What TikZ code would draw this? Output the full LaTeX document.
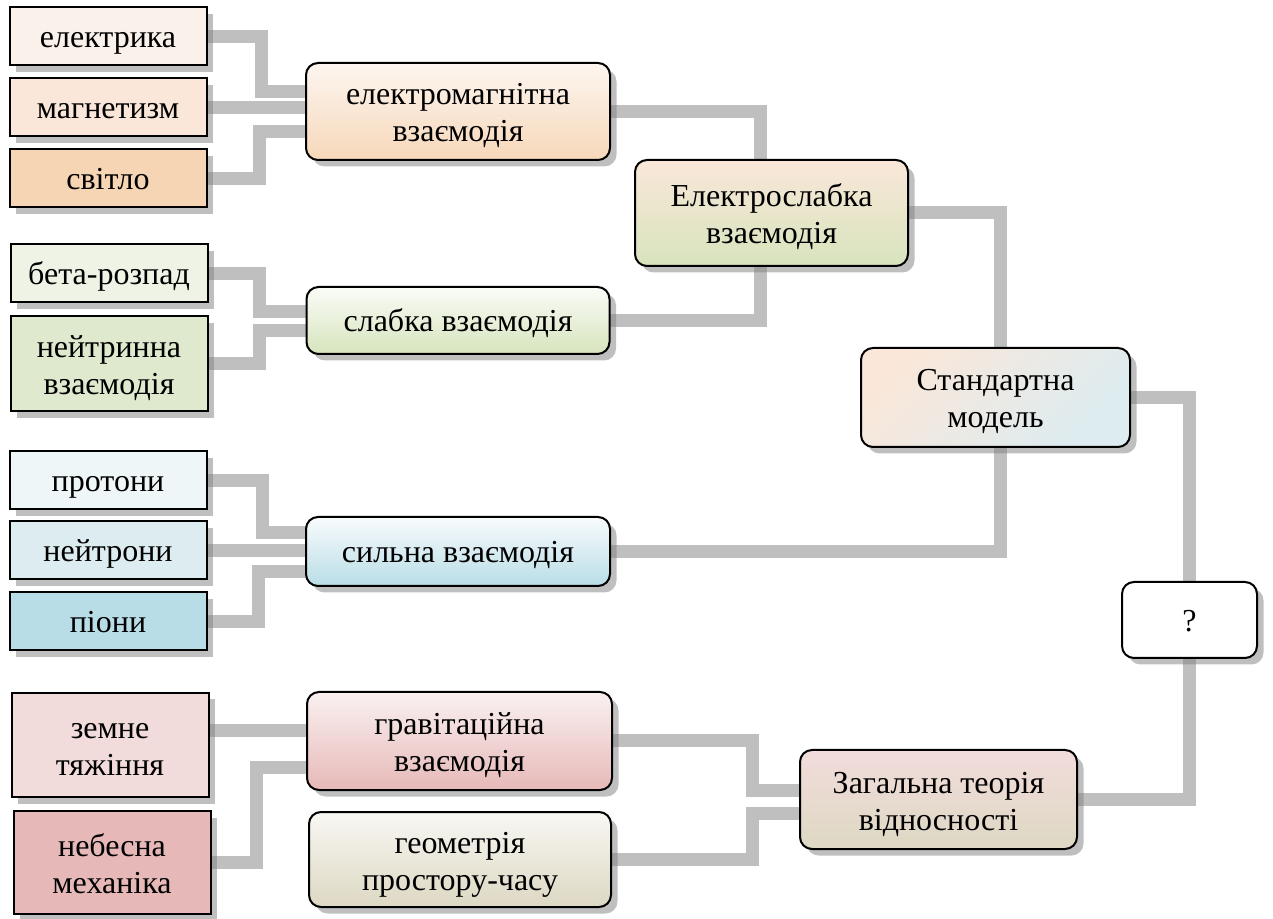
\documentclass[tikz,border=0pt]{standalone}
\usepackage{fontspec}
\setmainfont{Liberation Serif}
\usetikzlibrary{positioning,shadows,backgrounds}

\definecolor{linkgrey}{HTML}{BFBFBF}
\definecolor{peachA}{HTML}{FBF1EB}
\definecolor{peachB}{HTML}{FAE7D9}
\definecolor{peachC}{HTML}{F6D5B4}
\definecolor{greenA}{HTML}{EEF3E5}
\definecolor{greenB}{HTML}{DFE9CE}
\definecolor{greenC}{HTML}{D7E4BD}
\definecolor{blueA}{HTML}{EEF6F8}
\definecolor{blueB}{HTML}{DCECF1}
\definecolor{blueC}{HTML}{B9DDE6}
\definecolor{roseA}{HTML}{F2DCDB}
\definecolor{roseB}{HTML}{E6B9B8}
\definecolor{sandC}{HTML}{DDD8C3}

\begin{document}
\begin{tikzpicture}[x=1pt, y=1pt,
    every node/.style={font=\fontsize{32}{37}\selectfont, align=center, inner sep=3pt, outer sep=0pt,
        text height=31pt, text depth=8pt},
    two/.style={text height=69pt, text depth=8pt},
    leaf/.style={draw, line width=2pt, minimum width=197pt, minimum height=58pt,
        drop shadow={shadow xshift=6.5pt, shadow yshift=-6.5pt, opacity=0.5}},
    force/.style={leaf, rounded corners=12pt, minimum width=304pt},
    link/.style={draw=linkgrey, line width=13pt}]
    \useasboundingbox (0,0) rectangle (1273,918);

    % electromagnetism
    \node[leaf, fill=peachA] (el) at (108,881.5) {електрика};
    \node[leaf, fill=peachB, below=13pt of el] (mag) {магнетизм};
    \node[leaf, fill=peachC, below=13pt of mag] (svit) {світло};
    \node[force, two, top color=white!60!peachB, bottom color=peachC!85!peachB, minimum height=97pt] (emag) at (458,806.5) {електромагнітна\\взаємодія};

    % weak force
    \node[leaf, fill=greenA] (beta) at (109,644.5) {бета-розпад};
    \node[leaf, two, fill=greenB, below=14pt of beta, minimum height=95pt] (neu) {нейтринна\\взаємодія};
    \node[force, top color=white!70!greenA, bottom color=greenC, minimum height=67pt, minimum width=303pt] (slab) at (458,597.5) {слабка взаємодія};

    % strong force
    \node[leaf, fill=blueA] (prot) at (108,437.5) {протони};
    \node[leaf, fill=blueB, below=12pt of prot] (neut) {нейтрони};
    \node[leaf, fill=blueC, below=13pt of neut] (pion) {піони};
    \node[force, top color=white!60!blueA, bottom color=blueC, minimum height=69pt] (syl) at (458,366.5) {сильна взаємодія};

    % gravity
    \node[leaf, two, fill=roseA, minimum height=104pt] (zem) at (110,173) {земне\\тяжіння};
    \node[leaf, two, fill=roseB, below=14pt of zem, xshift=2pt, minimum height=103pt] (neb) {небесна\\механіка};
    \node[force, two, top color=white!60!roseA, bottom color=roseB, minimum height=98pt, minimum width=305pt] (grav) at (459.5,177) {гравітаційна\\взаємодія};
    \node[force, two, top color=white!80!sandC, bottom color=sandC, minimum height=95pt, minimum width=302pt] (geo) at (460,58.5) {геометрія\\простору-часу};

    % unified levels
    \node[force, two, top color=peachB, bottom color=greenC, minimum width=273pt, minimum height=106pt] (ew) at (771.5,705) {Електрослабка\\взаємодія};
    \node[force, two, left color=peachB, right color=blueB, shading angle=45, minimum width=269pt, minimum height=99pt] (std) at (995.5,520.5) {Стандартна\\модель};
    \node[force, fill=white, minimum width=135pt, minimum height=76pt] (q) at (1189.5,298) {?};
    \node[force, two, top color=roseA, bottom color=sandC, minimum width=277pt, minimum height=99pt] (zag) at (938.5,118.5) {Загальна теорія\\відносності};

    \coordinate (g1) at ([yshift=10pt]grav.west);

    \begin{scope}[on background layer]
        \draw[link] (el.east) -- ++(55,0) |- ([yshift=20pt]emag.west);
        \draw[link] (mag.east) -- (mag.east -| emag.west);
        \draw[link] (svit.east) -- ++(53,0) |- ([yshift=-20pt]emag.west);
        \draw[link] (beta.east) -- ++(52,0) |- ([yshift=9pt]slab.west);
        \draw[link] (neu.east) -- ++(52,0) |- ([yshift=-10pt]slab.west);
        \draw[link] (prot.east) -- ++(56,0) |- ([yshift=19pt]syl.west);
        \draw[link] (neut.east) -- (neut.east -| syl.west);
        \draw[link] (pion.east) -- ++(52,0) |- ([yshift=-20pt]syl.west);
        \draw[link] (g1 -| zem.east) -- (g1);
        \draw[link] (neb.east) -- ++(46,0) |- ([yshift=-26pt]grav.west);
        \draw[link] (emag.east) -| ([xshift=-11pt]ew.north);
        \draw[link] (slab.east) -| ([xshift=-11pt]ew.south);
        \draw[link] (ew.east) -| ([xshift=5pt]std.north);
        \draw[link] (syl.east) -| ([xshift=5pt]std.south);
        \draw[link] (std.east) -| (q.north);
        \draw[link] (q.south) |- (zag.east);
        \draw[link] (grav.east) -- ++(140,0) |- ([yshift=9pt]zag.west);
        \draw[link] (geo.east) -- ++(141,0) |- ([yshift=-14pt]zag.west);
    \end{scope}
\end{tikzpicture}
\end{document}
